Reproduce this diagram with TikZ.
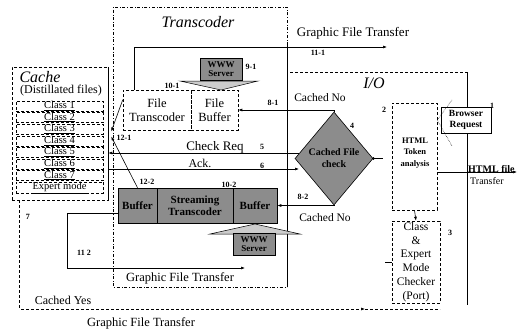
\documentclass[tikz,border=0pt]{standalone}
\usepackage{fontspec}
\setmainfont{Liberation Serif}
\usetikzlibrary{shapes.geometric,arrows.meta,calc}
\tikzset{
  box/.style={draw, densely dashed, line width=0.5pt, inner sep=0pt, align=center},
  classbox/.style={draw, densely dashed, line width=0.5pt, minimum width=87pt, minimum height=10pt, inner sep=0pt, font=\fontsize{10.5}{11}\selectfont},
  graybox/.style={draw, fill=black!45, line width=0.6pt, inner sep=0pt, align=center, font=\fontsize{11}{12}\selectfont\bfseries},
  lbl/.style={font=\fontsize{8}{9}\selectfont\bfseries, inner sep=0pt},
  txt/.style={font=\fontsize{12}{13}\selectfont, inner sep=0pt},
  ttl/.style={font=\fontsize{16}{17}\selectfont\itshape, inner sep=0pt},
  conn/.style={line width=0.6pt, -{Latex[length=4pt,width=3pt]}},
  dconn/.style={conn, densely dashed},
}
\begin{document}
\begin{tikzpicture}[x=1pt,y=-1pt]
\useasboundingbox (0,0) rectangle (523,332);

% frames
\draw[dash dot, line width=0.5pt] (287,45) -- (287,7) -- (113,7) -- (113,287) -- (287,287);
\draw[line width=0.6pt] (287,45) -- (287,287);
\draw[densely dashed, line width=0.5pt] (290,72) -- (467,72);
\draw[line width=0.6pt] (467,72) -- (467,305);

% cache
\node[draw, densely dashed, line width=0.5pt, minimum width=96pt, minimum height=133pt, inner sep=0pt] (cachebox) at (60,133.5) {};
\draw[line width=0.7pt] (cachebox.north east) -- (cachebox.south east);
\node[ttl] (cachet) at (40,77) {Cache};
\node[txt] (distil) at (61,91) {(Distillated files)};
\node[classbox] (c1) at (59.5,106) {\underline{Class 1}};
\node[classbox] (c2) at (59.5,117.6) {\underline{Class 2}};
\node[classbox] (c3) at (59.5,129.2) {\underline{Class 3}};
\node[classbox] (c4) at (59.5,140.8) {\underline{Class 4}};
\node[classbox] (c5) at (59.5,152.4) {\underline{Class 5}};
\node[classbox] (c6) at (59.5,164) {\underline{Class 6}};
\node[classbox] (c7) at (59.5,175.6) {\underline{Class 7}};
\node[classbox] (cx) at (59.5,187.6) {\underline{Expert mode}};

% transcoder
\node[ttl] (transt) at (198,22) {Transcoder};
\node[box, minimum width=68pt, minimum height=40pt, font=\fontsize{12.5}{14}\selectfont] (ft) at (157,110) {File\\Transcoder};
\node[box, minimum width=47pt, minimum height=40pt, font=\fontsize{12.5}{14}\selectfont] (fb) at (214.5,110) {File\\Buffer};
\draw[fill=black!20, line width=0.5pt] (180,81) -- (258,81) -- (221,90) -- cycle;
\node[graybox, minimum width=42pt, minimum height=22pt, font=\fontsize{9}{9.5}\selectfont\bfseries] (www1) at (221,69) {WWW\\Server};

\node[graybox, minimum width=39pt, minimum height=35pt] (sb1) at (137.5,205.5) {Buffer};
\node[graybox, minimum width=76pt, minimum height=35pt] (st) at (195,205.5) {Streaming\\Transcoder};
\node[graybox, minimum width=44pt, minimum height=35pt] (sb2) at (255,205.5) {Buffer};
\draw[fill=black!20, line width=0.5pt] (210,234) -- (300,234) -- (255,224) -- cycle;
\node[graybox, minimum width=42pt, minimum height=22pt, font=\fontsize{9}{9.5}\selectfont\bfseries] (www2) at (254,244) {WWW\\Server};

% I/O
\node[ttl] (iot) at (374,83) {I/O};
\node[diamond, draw, fill=black!45, line width=0.6pt, minimum width=78pt, minimum height=93pt, inner sep=0pt, align=center, font=\fontsize{10}{12}\selectfont\bfseries] (dia) at (334,158.5) {Cached File\\check};
\node[box, minimum width=45pt, minimum height=107pt] (html) at (414.5,156.5) {};
\node[font=\fontsize{8.5}{11.5}\selectfont\bfseries, align=center, inner sep=0pt] (htmlt) at (415,153) {HTML\\Token\\analysis};
\node[draw, line width=0.6pt, fill=white, minimum width=50pt, minimum height=26pt, inner sep=0pt, align=center, font=\fontsize{9.5}{11}\selectfont\bfseries] (br) at (466,120) {Browser\\Request};
\node[box, minimum width=48pt, minimum height=82pt, font=\fontsize{11.5}{13.8}\selectfont] (chk) at (416,262) {Class\\\&\\Expert\\Mode\\Checker\\(Port)};

% connectors
\coordinate (g1) at (387,47);
\draw[conn] ($(ft.north west)+(12,0)$) |- (g1);
\draw[conn] (dia.north) |- (fb.east);
\draw[conn] (dia.south) |- (sb2.east);
\coordinate (crq) at (299,153);
\draw[conn] (crq) -- (cachebox.east |- crq);
\coordinate (ackp) at (299,169);
\draw[conn] (cachebox.east |- ackp) -- (ackp);
\draw[conn] ($(ft.north west)+(0,10)$) -- ($(cachebox.east)+(3,-2)$);
\draw[conn] (sb1.north) -- ($(cachebox.east)+(3,3)$);
\coordinate (g2) at (245,268);
\draw[conn] ($(sb1.west)+(0,7.5)$) -- ++(-50,0) |- (g2);
\coordinate (g3) at (365,309);
\draw[dconn] ($(cachebox.south west)+(8,0)$) |- (g3);
\draw[densely dashed, line width=0.5pt] (g3) -- (440,309);
\draw[line width=0.6pt] (dia.east) -- ++(10,0);
\fill (dia.east) circle (1.5pt);
\coordinate (g4) at (517,172);
\draw[conn] (html.east |- g4) -- (g4);
\draw[conn] (html.south) -- (chk.north);
\draw[line width=0.6pt] (chk.west) -- ++(-7,0);
\draw[densely dotted, line width=0.5pt] (452,100) -- (html.east |- br.west) -- (452,146);

% labels
\node[font=\fontsize{13}{14}\selectfont, inner sep=0pt] (gft1) at (353,33) {Graphic File Transfer};
\node[lbl] (l111) at (318,53) {11-1};
\node[lbl] (l91) at (251,67) {9-1};
\node[lbl] (l101) at (172,86) {10-1};
\node[lbl] (l81) at (273,103) {8-1};
\node[font=\fontsize{11.5}{12}\selectfont, inner sep=0pt] (cn1) at (320,98) {Cached No};
\node[lbl] (l1) at (492,106) {1};
\node[lbl] (l2) at (384,110) {2};
\node[lbl] (l4) at (352,126) {4};
\node[lbl] (l121) at (124,138) {12-1};
\node[font=\fontsize{13}{14}\selectfont, inner sep=0pt] (chq) at (215,147) {Check Req};
\node[lbl] (l5) at (262,147) {5};
\node[txt] (ack) at (200,163) {Ack.};
\node[lbl] (l6) at (262,166) {6};
\node[font=\fontsize{10}{11}\selectfont\bfseries, inner sep=0pt, anchor=west] (hf) at (468,169) {HTML file};
\node[font=\fontsize{10}{11}\selectfont, inner sep=0pt, anchor=west] (hft) at (470,181) {Transfer};
\node[lbl] (l122) at (147,182) {12-2};
\node[lbl] (l102) at (229,185) {10-2};
\node[lbl] (l82) at (303,197) {8-2};
\node[lbl] (l7) at (28,217) {7};
\node[font=\fontsize{11.5}{12}\selectfont, inner sep=0pt] (cn2) at (325,218) {Cached No};
\node[lbl] (l3) at (450,233) {3};
\node[lbl] (l112) at (84,253) {11 2};
\node[font=\fontsize{12.5}{13}\selectfont, inner sep=0pt] (gft2) at (180,278) {Graphic File Transfer};
\node[font=\fontsize{12}{13}\selectfont, inner sep=0pt] (cy) at (63,300) {Cached Yes};
\node[font=\fontsize{12.5}{13}\selectfont, inner sep=0pt] (gft3) at (141,323) {Graphic File Transfer};
\end{tikzpicture}
\end{document}
